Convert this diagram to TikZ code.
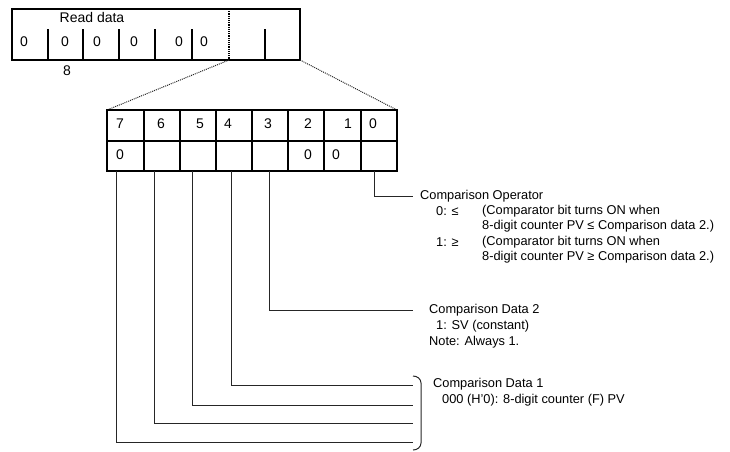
\documentclass[tikz,border=0pt]{standalone}
\usepackage{fontspec}
\setmainfont{Liberation Sans}
\usetikzlibrary{arrows}

\begin{document}
\begin{tikzpicture}[x=1pt,y=-1pt, font=\fontsize{12.8}{15}\selectfont,
  box/.style={line width=1.2pt},
  lead/.style={line width=1pt, black!85},
  big/.style={font=\fontsize{14}{16}\selectfont},
  txt/.style={anchor=west, inner sep=0pt}]
\useasboundingbox (0,0) rectangle (730,451);

% read data word
\draw[box] (12,9) rectangle (300,60);
\foreach \x in {48,83,119,155,192,265} \draw[box] (\x,29) -- (\x,60);
\draw[box, densely dotted] (229,9) -- (229,60); % split of the word
\node[big] (rd) at (92,17) {Read data};
\foreach \x/\n in {24/a,65/b,97/c,134/d,179/e,204/f} \node[big] (z\n) at (\x,42) {0};
\node[big] (eight) at (67,71) {8};

\coordinate (ul) at (229,60);
\coordinate (ur) at (300,60);
\coordinate (ll) at (107,110);
\coordinate (lr) at (397,110);
\draw[lead, densely dotted] (ul) -- (ll);
\draw[lead, densely dotted] (ur) -- (lr);

% bit box
\draw[box] (ll) rectangle (397,171);
\draw[box] (107,141) -- (397,141);
\foreach \x in {144,180,216,252,288,324,361} \draw[box] (\x,110) -- (\x,171);
\foreach \x/\n in {120/7,161/6,200/5,228/4,268/3,308/2,348/1,373/0} \node[big] (bit\n) at (\x,124) {\n};
\foreach \x/\n in {120/a,308/b,336/c} \node[big] (v\n) at (\x,155) {0};

% leads from the bits
\coordinate (s0) at (374,171);
\coordinate (s3) at (269,171);
\coordinate (s4) at (231,171);
\coordinate (s5) at (192,171);
\coordinate (s6) at (154,171);
\coordinate (s7) at (116,171);
\coordinate (e0) at (413,196);
\coordinate (e3) at (413,310);
\coordinate (e4) at (413,385);
\coordinate (e5) at (413,405);
\coordinate (e6) at (413,423);
\coordinate (e7) at (413,442);
\foreach \n in {0,3,4,5,6,7} \draw[lead] (s\n) |- (e\n);

% bracket
\draw[lead] (413,376) to[out=0,in=90] (421,383) -- (421,443) to[out=-90,in=0] (413,450);

% comparison operator
\node[txt] (op) at (420,196) {Comparison Operator};
\node[txt] (op0) at (436,211) {0: ≤};
\node[txt] (op0a) at (482,211) {(Comparator bit turns ON when};
\node[txt] (op0b) at (482,226) {8-digit counter PV ≤ Comparison data 2.)};
\node[txt] (op1) at (436,242) {1: ≥};
\node[txt] (op1a) at (482,242) {(Comparator bit turns ON when};
\node[txt] (op1b) at (482,257) {8-digit counter PV ≥ Comparison data 2.)};

% comparison data 2
\node[txt] (cd2) at (429,310) {Comparison Data 2};
\node[txt] (cd2a) at (436,326) {1: SV (constant)};
\node[txt] (cd2b) at (429,342) {Note: Always 1.};

% comparison data 1
\node[txt] (cd1) at (433,384) {Comparison Data 1};
\node[txt] (cd1a) at (442,400) {000 (H'0): 8-digit counter (F) PV};
\end{tikzpicture}
\end{document}
